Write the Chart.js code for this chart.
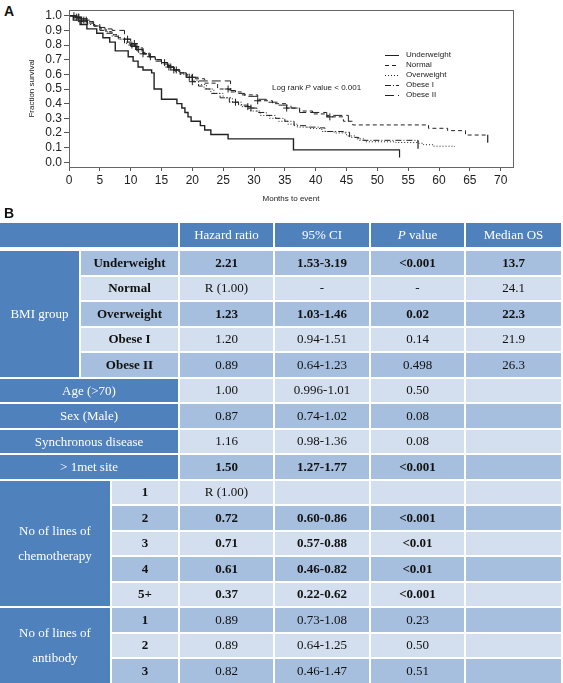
<!DOCTYPE html>
<html>
<head>
<meta charset="utf-8">
<script src="https://cdn.jsdelivr.net/npm/chart.js@4.4.1/dist/chart.umd.min.js"></script>
<style>
    body { margin: 0; background: #fff; }
    #page { position: relative; width: 563px; height: 683px; overflow: hidden; background: #fff; }
    .panel { position: absolute; left: 4px; font: bold 14px "Liberation Sans", Arial, sans-serif; color: #111; }
    #chartBox { position: absolute; left: 0; top: 0; width: 563px; height: 206px; }
    #tbl {
        position: absolute; left: 0; top: 223px;
        display: grid;
        grid-template-columns: 79px 29px 66px 93px 94px 93px 95px;
        grid-template-rows: 26px repeat(17, 23.5px);
        gap: 2px;
        font: 13px "Liberation Serif", "Times New Roman", serif;
        color: #111;
    }
    .c { display: flex; align-items: center; justify-content: center; text-align: center; }
    .hd { background: #4f81bd; color: #fff; height: 24px; align-self: start; }
    .lab { background: #4f81bd; color: #fff; line-height: 25px; }
    .b { font-weight: bold; }
</style>
</head>
<body>
<div id="page">
    <div class="panel" style="top:3px">A</div>
    <div id="chartBox"><canvas id="kmChart"></canvas></div>
    <div class="panel" style="top:205px">B</div>
    <div id="tbl"></div>
</div>
<script>
// Kaplan-Meier curves: step times (months) and survival fractions
const underweightT = [0, 0.7, 1.8, 2.9, 4.5, 5.5, 6.6, 7.5, 9.6, 10.4, 11.2, 12.0, 13.4, 13.8, 15.0, 17.5, 18.3, 18.8, 19.3, 19.8, 21.3, 22.0, 23.0, 25.8, 36.4, 53.6];
const underweightS = [1.0, 0.97, 0.94, 0.91, 0.88, 0.85, 0.82, 0.76, 0.72, 0.69, 0.65, 0.63, 0.61, 0.50, 0.43, 0.40, 0.37, 0.34, 0.31, 0.28, 0.25, 0.22, 0.19, 0.16, 0.085, 0.085];

const normalT = [0, 1, 2, 3, 4, 5, 6, 7, 8, 9, 10, 11, 12, 13, 14, 15, 16, 17, 18, 19, 20, 22, 24.1, 26, 28, 30.6, 33, 35.3, 37.4, 39.5, 41.8, 44.5, 46, 58.3, 61.4, 64.3, 67.9];
const normalS = [1.0, 0.99, 0.97, 0.95, 0.93, 0.91, 0.89, 0.87, 0.85, 0.82, 0.80, 0.77, 0.74, 0.72, 0.70, 0.68, 0.65, 0.63, 0.61, 0.59, 0.57, 0.54, 0.50, 0.48, 0.46, 0.42, 0.40, 0.37, 0.35, 0.33, 0.31, 0.28, 0.255, 0.232, 0.216, 0.186, 0.186];

const overweightT = [0, 1, 2, 3, 4, 5, 6, 7, 8, 9, 10, 11, 12, 13, 14, 15, 16, 17, 18, 19, 20, 21, 22.3, 23.5, 25, 26.5, 28, 29.5, 31, 32.5, 34, 35.5, 37, 39, 41, 43, 45, 46.5, 48, 53, 56.5, 57.5, 59, 62.5];
const overweightS = [1.0, 0.99, 0.97, 0.95, 0.93, 0.91, 0.89, 0.87, 0.84, 0.82, 0.79, 0.77, 0.74, 0.72, 0.70, 0.68, 0.65, 0.63, 0.61, 0.58, 0.56, 0.53, 0.50, 0.47, 0.44, 0.41, 0.38, 0.35, 0.32, 0.30, 0.28, 0.26, 0.24, 0.23, 0.21, 0.20, 0.18, 0.16, 0.14, 0.135, 0.13, 0.12, 0.11, 0.105];

const obese1T = [0, 1, 2, 3, 4, 5, 6, 7, 8, 9, 10, 11, 12, 13, 14, 15, 16, 17, 18, 19, 20, 21, 21.9, 23, 24.5, 26, 27.5, 29, 30.5, 32, 33.5, 35, 36.5, 38.5, 40.5, 41.5, 44.5, 45.5, 47, 56.6];
const obese1S = [1.0, 0.98, 0.96, 0.94, 0.93, 0.90, 0.88, 0.86, 0.84, 0.81, 0.79, 0.76, 0.74, 0.72, 0.69, 0.67, 0.65, 0.62, 0.60, 0.58, 0.55, 0.52, 0.50, 0.47, 0.44, 0.41, 0.39, 0.37, 0.34, 0.32, 0.30, 0.28, 0.25, 0.24, 0.235, 0.21, 0.205, 0.17, 0.15, 0.14];

const obese2T = [0, 1, 2, 3, 4, 5, 6, 7, 9, 10, 11, 12, 13, 14, 15, 16, 17, 18, 19, 20, 21, 26.2, 27, 28.5, 30.5, 32, 34, 36, 37.4, 41.8, 45.3, 45.8];
const obese2S = [1.0, 0.99, 0.98, 0.96, 0.94, 0.92, 0.91, 0.90, 0.84, 0.81, 0.78, 0.75, 0.72, 0.70, 0.68, 0.66, 0.63, 0.61, 0.60, 0.58, 0.555, 0.49, 0.47, 0.45, 0.43, 0.41, 0.39, 0.37, 0.34, 0.32, 0.28, 0.28];

// censored observations (+)
const normalCensT = [1.2, 2.4, 10.2, 11.3, 16.2, 17.4, 25.8, 30.6, 35.3, 42.3];
const normalCensS = [0.99, 0.97, 0.80, 0.77, 0.65, 0.63, 0.50, 0.42, 0.37, 0.31];
const overweightCensT = [1.5, 2.8, 10.8, 12.0, 17.0, 19.5, 27.0, 29.0];
const overweightCensS = [0.99, 0.97, 0.79, 0.74, 0.63, 0.58, 0.41, 0.38];
const obese1CensT = [0.8, 2.0, 9.5, 13.2, 16.5, 20.0, 29.5];
const obese1CensS = [1.0, 0.96, 0.84, 0.72, 0.65, 0.55, 0.37];
const obese2CensT = [1.6, 10.6, 15.5, 20.0];
const obese2CensS = [0.99, 0.81, 0.68, 0.58];
// last follow-up marks
const endT = [53.6, 56.6, 67.9];
const endS = [0.06, 0.12, 0.16];

const xTicks = [0, 5, 10, 15, 20, 25, 30, 35, 40, 45, 50, 55, 60, 65, 70];
const yTicks = [0, 0.1, 0.2, 0.3, 0.4, 0.5, 0.6, 0.7, 0.8, 0.9, 1.0];

const seriesNames = ["Underweight", "Normal", "Overweight", "Obese I", "Obese II"];
const seriesDash = [[], [4, 3], [1, 2], [6, 2, 1, 2], [9, 4]];

// table B
const tableHeaders = ["Hazard ratio", "95% CI", "<span><i>P</i> value</span>", "Median OS"];
const bmiGroups = ["Underweight", "Normal", "Overweight", "Obese I", "Obese II"];
const bmiHR = ["2.21", "R (1.00)", "1.23", "1.20", "0.89"];
const bmiCI = ["1.53-3.19", "-", "1.03-1.46", "0.94-1.51", "0.64-1.23"];
const bmiP = ["<0.001", "-", "0.02", "0.14", "0.498"];
const bmiMedian = ["13.7", "24.1", "22.3", "21.9", "26.3"];
const bmiBold = [true, false, true, false, false];

const covariates = ["Age (>70)", "Sex (Male)", "Synchronous disease", "> 1met site"];
const covHR = ["1.00", "0.87", "1.16", "1.50"];
const covCI = ["0.996-1.01", "0.74-1.02", "0.98-1.36", "1.27-1.77"];
const covP = ["0.50", "0.08", "0.08", "<0.001"];
const covBold = [false, false, false, true];

const chemoLines = ["1", "2", "3", "4", "5+"];
const chemoHR = ["R (1.00)", "0.72", "0.71", "0.61", "0.37"];
const chemoCI = ["", "0.60-0.86", "0.57-0.88", "0.46-0.82", "0.22-0.62"];
const chemoP = ["", "<0.001", "<0.01", "<0.01", "<0.001"];
const chemoBold = [false, true, true, true, true];

const abLines = ["1", "2", "3"];
const abHR = ["0.89", "0.89", "0.82"];
const abCI = ["0.73-1.08", "0.64-1.25", "0.46-1.47"];
const abP = ["0.23", "0.50", "0.51"];

const pts = (t, s) => t.map((x, i) => ({ x: x, y: s[i] }));

function curve(t, s, dash, width) {
    return {
        data: pts(t, s), showLine: true, stepped: true,
        borderColor: "#222", borderWidth: width, borderDash: dash,
        pointRadius: 0, fill: false
    };
}

function censor(t, s) {
    return {
        data: pts(t, s), showLine: false, pointStyle: "cross",
        pointRadius: 3.5, borderColor: "#222", borderWidth: 1
    };
}

const fontSans = "'Liberation Sans', Arial, sans-serif";

// frame, legend and log-rank note inside the plot
const notePlugin = {
    id: "notes",
    afterDraw(chart) {
        const ctx = chart.ctx;
        const a = chart.chartArea;
        ctx.save();
        ctx.strokeStyle = "#666";
        ctx.lineWidth = 1;
        ctx.strokeRect(a.left + 0.5, a.top + 0.5, a.width, a.height);

        ctx.font = "8px " + fontSans;
        ctx.fillStyle = "#222";
        ctx.textBaseline = "middle";
        seriesNames.forEach((name, i) => {
            const y = 55 + i * 10;
            ctx.beginPath();
            ctx.setLineDash(seriesDash[i]);
            ctx.strokeStyle = "#222";
            ctx.moveTo(385, y + 0.5);
            ctx.lineTo(399, y + 0.5);
            ctx.stroke();
            ctx.fillText(name, 406, y);
        });
        ctx.setLineDash([]);
        let x = 272;
        const parts = [["Log rank ", ""], ["P", "italic "], [" value < 0.001", ""]];
        parts.forEach(p => {
            ctx.font = p[1] + "8px " + fontSans;
            ctx.fillText(p[0], x, 88);
            x += ctx.measureText(p[0]).width;
        });
        ctx.restore();
    }
};

new Chart(document.getElementById("kmChart"), {
    type: "scatter",
    data: {
        datasets: [
            curve(underweightT, underweightS, seriesDash[0], 1.4),
            curve(normalT, normalS, seriesDash[1], 1),
            curve(overweightT, overweightS, seriesDash[2], 1),
            curve(obese1T, obese1S, seriesDash[3], 1),
            curve(obese2T, obese2S, seriesDash[4], 1),
            censor(normalCensT, normalCensS),
            censor(overweightCensT, overweightCensS),
            censor(obese1CensT, obese1CensS),
            censor(obese2CensT, obese2CensS),
            { data: pts(endT, endS), showLine: false, pointStyle: "line", rotation: 90, pointRadius: 4, borderColor: "#222", borderWidth: 1.2 }
        ]
    },
    options: {
        responsive: true,
        maintainAspectRatio: false,
        animation: false,
        layout: { padding: { left: 25, right: 50, top: 10, bottom: 0 } },
        plugins: { legend: { display: false }, tooltip: { enabled: false } },
        scales: {
            x: {
                type: "linear", min: 0, max: 72,
                afterBuildTicks: s => { s.ticks = xTicks.map(v => ({ value: v })); },
                afterFit: s => { s.height = 39; },
                ticks: { autoSkip: false, maxRotation: 0, color: "#222", padding: 2, font: { size: 12, family: fontSans } },
                grid: { drawOnChartArea: false, drawTicks: true, tickLength: 4, color: "#555" },
                border: { display: false },
                title: { display: true, text: "Months to event", color: "#222", font: { size: 8, family: fontSans }, padding: { top: 2, bottom: 2 } }
            },
            y: {
                min: -0.032, max: 1.039,
                afterBuildTicks: s => { s.ticks = yTicks.map(v => ({ value: v })); },
                afterFit: s => { s.width = 44; },
                ticks: { autoSkip: false, color: "#222", padding: 2, font: { size: 12, family: fontSans }, callback: v => v.toFixed(1) },
                grid: { drawOnChartArea: false, drawTicks: true, tickLength: 5, color: "#555" },
                border: { display: false },
                title: { display: true, text: "Fraction survival", color: "#222", font: { size: 8, family: fontSans }, padding: { top: 2, bottom: 2 } }
            }
        }
    },
    plugins: [notePlugin]
});

// build the hazard table
const tbl = document.getElementById("tbl");
function cell(html, row, col, cls, bg) {
    const d = document.createElement("div");
    d.className = "c " + (cls || "");
    d.innerHTML = html;
    d.style.gridRow = row;
    d.style.gridColumn = col;
    if (bg) d.style.background = bg;
    tbl.appendChild(d);
}
const band = i => (i % 2 === 0 ? "#a7bfde" : "#d3dfee");
const esc = s => s.replace(/</g, "&lt;").replace(/>/g, "&gt;");

cell("", "1", "1 / span 3", "hd");
tableHeaders.forEach((h, i) => cell(h, "1", String(4 + i), "hd"));

function valueCells(r, i, hr, ci, p, med, bold) {
    const cls = bold ? "b" : "";
    cell(esc(hr), String(r), "4", cls, band(i));
    cell(esc(ci), String(r), "5", cls, band(i));
    cell(esc(p), String(r), "6", cls, band(i));
    cell(esc(med), String(r), "7", cls, band(i));
}

let row = 0;
cell("BMI group", "2 / span 5", "1", "lab");
bmiGroups.forEach((g, i) => {
    cell(esc(g), String(2 + row), "2 / span 2", "b", band(row));
    valueCells(2 + row, row, bmiHR[i], bmiCI[i], bmiP[i], bmiMedian[i], bmiBold[i]);
    row++;
});
covariates.forEach((c, i) => {
    cell(esc(c), String(2 + row), "1 / span 3", "lab");
    valueCells(2 + row, row, covHR[i], covCI[i], covP[i], "", covBold[i]);
    row++;
});
cell("No of lines of<br>chemotherapy", (2 + row) + " / span 5", "1 / span 2", "lab");
chemoLines.forEach((n, i) => {
    cell(n, String(2 + row), "3", "b", band(row));
    valueCells(2 + row, row, chemoHR[i], chemoCI[i], chemoP[i], "", chemoBold[i]);
    row++;
});
cell("No of lines of<br>antibody", (2 + row) + " / span 3", "1 / span 2", "lab");
abLines.forEach((n, i) => {
    cell(n, String(2 + row), "3", "b", band(row));
    valueCells(2 + row, row, abHR[i], abCI[i], abP[i], "", false);
    row++;
});
</script>
</body>
</html>
